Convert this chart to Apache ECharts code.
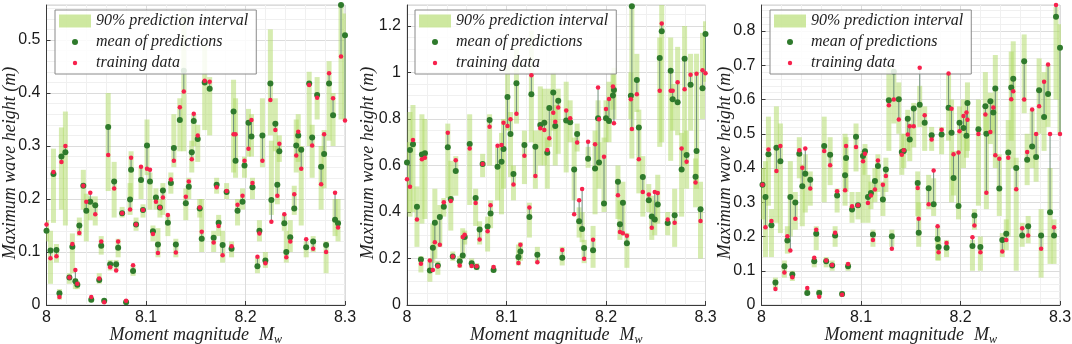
<!DOCTYPE html>
<html>
<head>
<meta charset="utf-8">
<script src="https://cdn.jsdelivr.net/npm/echarts@6/dist/echarts.min.js"></script>
<style>
  html, body { margin: 0; padding: 0; background: #fff; }
  #chart { width: 1072px; height: 344px; }
</style>
</head>
<body>
<div id="chart"></div>
<script>
// panel A
const mwA = [8.000,8.004,8.007,8.010,8.013,8.015,8.019,8.023,8.026,8.029,8.031,8.033,8.037,8.040,8.044,8.045,8.049,8.053,8.055,8.058,8.062,8.064,8.068,8.070,8.072,8.076,8.080,8.084,8.085,8.087,8.090,8.095,8.097,8.101,8.104,8.107,8.110,8.112,8.114,8.117,8.122,8.125,8.128,8.130,8.134,8.138,8.140,8.143,8.146,8.148,8.152,8.154,8.156,8.159,8.164,8.168,8.171,8.173,8.177,8.181,8.186,8.188,8.190,8.192,8.197,8.199,8.203,8.206,8.207,8.212,8.214,8.217,8.220,8.225,8.226,8.230,8.232,8.234,8.239,8.241,8.245,8.249,8.251,8.253,8.256,8.261,8.264,8.267,8.268,8.272,8.276,8.279,8.281,8.284,8.288,8.290,8.293,8.296,8.300];
const meanA = [0.14,0.103,0.247,0.104,0.022,0.28,0.288,0.052,0.11,0.045,0.038,0.15,0.225,0.178,0.195,0.01,0.188,0.047,0.112,0.008,0.336,0.077,0.233,0.077,0.108,0.173,0.005,0.199,0.255,0.064,0.152,0.236,0.179,0.301,0.233,0.139,0.203,0.114,0.184,0.216,0.155,0.23,0.296,0.114,0.349,0.442,0.192,0.223,0.288,0.347,0.313,0.182,0.125,0.42,0.408,0.127,0.227,0.155,0.113,0.213,0.106,0.365,0.272,0.178,0.195,0.263,0.344,0.318,0.222,0.073,0.14,0.32,0.084,0.418,0.198,0.342,0.227,0.29,0.154,0.10,0.128,0.182,0.301,0.32,0.293,0.109,0.418,0.316,0.12,0.396,0.261,0.285,0.113,0.418,0.358,0.161,0.154,0.566,0.509];
const trainA = [0.152,0.088,0.251,0.092,0.015,0.27,0.30,0.052,0.115,0.066,0.04,0.136,0.225,0.195,0.212,0.015,0.171,0.05,0.12,0.005,0.283,0.071,0.22,0.065,0.12,0.173,0.008,0.18,0.278,0.075,0.152,0.261,0.179,0.257,0.255,0.134,0.195,0.098,0.184,0.203,0.17,0.237,0.272,0.099,0.373,0.403,0.204,0.233,0.275,0.361,0.32,0.184,0.138,0.423,0.421,0.118,0.222,0.149,0.094,0.215,0.111,0.322,0.322,0.189,0.206,0.272,0.295,0.349,0.23,0.091,0.135,0.272,0.079,0.387,0.157,0.33,0.206,0.304,0.171,0.09,0.12,0.209,0.282,0.327,0.257,0.124,0.415,0.301,0.106,0.391,0.228,0.322,0.10,0.437,0.39,0.212,0.146,0.469,0.348];
const loA = [0.12,0.04,0.155,0.08,0.01,0.18,0.15,0.04,0.06,0.03,0.03,0.13,0.18,0.12,0.16,0.005,0.15,0.04,0.095,0.003,0.215,0.065,0.165,0.065,0.09,0.165,0.003,0.17,0.20,0.055,0.14,0.20,0.165,0.245,0.18,0.12,0.18,0.09,0.165,0.17,0.13,0.21,0.26,0.09,0.29,0.29,0.16,0.20,0.25,0.30,0.27,0.165,0.10,0.33,0.32,0.10,0.21,0.13,0.08,0.20,0.09,0.25,0.24,0.15,0.18,0.24,0.28,0.28,0.20,0.06,0.12,0.26,0.07,0.32,0.17,0.29,0.19,0.27,0.14,0.08,0.10,0.17,0.25,0.27,0.15,0.09,0.30,0.24,0.10,0.35,0.18,0.22,0.06,0.31,0.30,0.13,0.12,0.35,0.35];
const hiA = [0.16,0.14,0.295,0.115,0.03,0.335,0.365,0.06,0.135,0.05,0.045,0.165,0.255,0.21,0.205,0.015,0.205,0.06,0.13,0.012,0.40,0.085,0.27,0.085,0.125,0.185,0.01,0.23,0.29,0.075,0.165,0.26,0.19,0.35,0.25,0.15,0.22,0.145,0.20,0.23,0.17,0.25,0.36,0.125,0.39,0.55,0.22,0.24,0.31,0.36,0.34,0.20,0.20,0.49,0.43,0.14,0.24,0.17,0.14,0.23,0.12,0.425,0.39,0.20,0.22,0.28,0.37,0.36,0.24,0.09,0.16,0.39,0.10,0.52,0.31,0.39,0.30,0.32,0.17,0.14,0.16,0.225,0.35,0.36,0.30,0.12,0.44,0.34,0.13,0.43,0.30,0.33,0.12,0.46,0.40,0.20,0.20,0.57,0.55];

// panel B
const mwB = [8.000,8.003,8.006,8.010,8.014,8.015,8.018,8.023,8.026,8.028,8.031,8.033,8.037,8.041,8.044,8.046,8.049,8.053,8.056,8.058,8.063,8.065,8.069,8.070,8.073,8.076,8.081,8.083,8.084,8.087,8.091,8.095,8.097,8.101,8.104,8.107,8.110,8.112,8.114,8.118,8.123,8.125,8.129,8.131,8.134,8.138,8.141,8.143,8.147,8.149,8.152,8.156,8.160,8.164,8.168,8.171,8.173,8.176,8.178,8.182,8.187,8.189,8.192,8.193,8.198,8.200,8.203,8.207,8.208,8.212,8.214,8.217,8.221,8.225,8.226,8.231,8.233,8.237,8.243,8.246,8.249,8.252,8.254,8.256,8.262,8.265,8.267,8.269,8.272,8.276,8.279,8.281,8.285,8.290,8.291,8.295,8.297,8.300];
const meanB = [0.613,0.666,0.691,0.422,0.196,0.647,0.652,0.148,0.246,0.354,0.17,0.378,0.422,0.678,0.456,0.209,0.576,0.188,0.213,0.292,0.692,0.18,0.46,0.163,0.325,0.606,0.338,0.796,0.393,0.151,0.594,0.616,0.671,0.894,0.735,0.563,0.954,0.206,0.23,0.688,0.378,0.906,0.681,0.216,0.774,0.784,0.655,0.847,0.914,0.77,0.878,0.203,0.793,0.786,0.583,0.735,0.36,0.327,0.245,0.629,0.235,0.587,0.803,0.613,0.436,0.803,0.791,0.901,0.925,0.53,0.347,0.44,0.266,0.90,1.285,0.968,0.763,0.55,0.45,0.381,0.368,0.432,1.062,1.177,0.353,1.007,0.885,0.386,0.872,0.583,1.059,0.645,0.947,0.551,0.662,0.412,0.932,1.165];
const trainB = [0.541,0.508,0.709,0.368,0.177,0.627,0.633,0.191,0.151,0.27,0.167,0.259,0.442,0.741,0.447,0.209,0.622,0.17,0.292,0.302,0.673,0.168,0.439,0.167,0.282,0.606,0.317,0.767,0.429,0.163,0.685,0.688,0.784,0.77,0.799,0.518,0.822,0.181,0.259,0.642,0.419,0.988,0.555,0.184,0.76,0.753,0.666,0.717,0.827,0.788,0.849,0.237,0.836,0.803,0.39,0.699,0.45,0.499,0.199,0.702,0.281,0.691,0.935,0.799,0.637,0.843,0.886,0.94,0.781,0.472,0.314,0.309,0.298,0.885,0.757,0.906,0.627,0.486,0.475,0.332,0.486,0.482,0.921,1.21,0.368,0.921,0.921,0.354,0.958,0.673,0.928,0.616,0.99,0.527,0.994,0.361,1.009,0.997];
const loB = [0.40,0.38,0.40,0.25,0.14,0.35,0.37,0.10,0.18,0.20,0.13,0.25,0.38,0.46,0.32,0.19,0.47,0.16,0.20,0.26,0.43,0.16,0.34,0.15,0.26,0.55,0.23,0.60,0.33,0.14,0.45,0.39,0.50,0.75,0.55,0.45,0.78,0.17,0.19,0.52,0.29,0.70,0.50,0.18,0.60,0.60,0.50,0.68,0.75,0.60,0.65,0.17,0.57,0.70,0.45,0.66,0.29,0.27,0.18,0.59,0.16,0.39,0.60,0.50,0.40,0.70,0.70,0.84,0.80,0.37,0.28,0.30,0.16,0.80,0.63,0.83,0.48,0.38,0.40,0.28,0.30,0.35,0.68,0.70,0.30,0.62,0.75,0.25,0.73,0.38,0.60,0.50,0.75,0.42,0.50,0.20,0.80,0.96];
const hiB = [0.70,0.83,0.86,0.51,0.21,0.82,0.80,0.20,0.35,0.50,0.19,0.43,0.46,0.78,0.62,0.23,0.64,0.21,0.33,0.32,0.82,0.20,0.50,0.18,0.36,0.65,0.38,0.82,0.45,0.17,0.68,0.74,0.80,1.03,0.83,0.60,1.10,0.26,0.27,0.75,0.44,1.18,0.75,0.25,0.94,0.93,0.72,0.93,1.00,0.86,0.93,0.25,0.96,0.88,0.72,0.78,0.42,0.40,0.28,0.68,0.34,0.75,0.88,0.70,0.72,0.88,0.96,1.00,1.02,0.60,0.45,0.53,0.31,1.00,1.29,1.08,0.84,0.64,0.52,0.47,0.45,0.56,1.15,1.29,0.40,1.15,0.95,0.50,1.11,0.74,1.20,0.75,1.08,0.63,1.08,0.53,1.17,1.22];

// panel C
const mwC = [8.001,8.004,8.007,8.010,8.014,8.015,8.019,8.023,8.026,8.029,8.031,8.034,8.038,8.041,8.044,8.046,8.049,8.053,8.055,8.058,8.063,8.065,8.069,8.071,8.074,8.076,8.081,8.084,8.085,8.087,8.091,8.095,8.097,8.102,8.104,8.107,8.110,8.112,8.114,8.117,8.122,8.125,8.128,8.131,8.133,8.138,8.141,8.143,8.147,8.149,8.153,8.157,8.158,8.159,8.164,8.168,8.171,8.173,8.177,8.178,8.181,8.186,8.188,8.191,8.193,8.198,8.199,8.203,8.206,8.207,8.212,8.214,8.218,8.220,8.225,8.226,8.230,8.233,8.235,8.239,8.242,8.246,8.248,8.251,8.253,8.256,8.262,8.264,8.267,8.268,8.272,8.276,8.279,8.281,8.284,8.288,8.290,8.294,8.296,8.300];
const meanC = [0.351,0.315,0.44,0.233,0.066,0.459,0.42,0.113,0.188,0.315,0.089,0.299,0.442,0.347,0.383,0.035,0.366,0.128,0.208,0.035,0.464,0.128,0.439,0.115,0.203,0.32,0.032,0.379,0.429,0.113,0.279,0.491,0.291,0.435,0.449,0.315,0.327,0.206,0.362,0.406,0.308,0.396,0.598,0.201,0.681,0.601,0.447,0.45,0.544,0.483,0.574,0.356,0.211,0.585,0.532,0.341,0.496,0.294,0.193,0.169,0.498,0.167,0.576,0.503,0.371,0.289,0.532,0.517,0.494,0.59,0.172,0.261,0.513,0.169,0.58,0.5,0.595,0.562,0.632,0.34,0.19,0.208,0.445,0.635,0.661,0.4,0.203,0.712,0.424,0.23,0.463,0.432,0.627,0.203,0.549,0.616,0.271,0.203,0.842,0.751];
const trainC = [0.351,0.227,0.454,0.245,0.047,0.391,0.464,0.095,0.201,0.159,0.081,0.252,0.452,0.401,0.457,0.05,0.34,0.138,0.22,0.024,0.45,0.13,0.408,0.117,0.211,0.332,0.03,0.335,0.464,0.12,0.288,0.461,0.291,0.42,0.442,0.298,0.32,0.19,0.337,0.422,0.351,0.377,0.583,0.164,0.60,0.542,0.439,0.452,0.498,0.522,0.522,0.342,0.252,0.693,0.554,0.294,0.483,0.393,0.23,0.154,0.512,0.181,0.676,0.573,0.44,0.445,0.507,0.552,0.562,0.541,0.198,0.232,0.499,0.154,0.556,0.328,0.505,0.577,0.437,0.427,0.156,0.19,0.43,0.601,0.624,0.338,0.224,0.60,0.447,0.203,0.571,0.499,0.58,0.164,0.652,0.702,0.499,0.227,0.876,0.499];
const loC = [0.25,0.14,0.29,0.14,0.05,0.24,0.21,0.08,0.15,0.20,0.07,0.22,0.37,0.23,0.27,0.03,0.29,0.11,0.16,0.025,0.30,0.11,0.35,0.10,0.17,0.27,0.025,0.29,0.33,0.10,0.24,0.39,0.25,0.24,0.38,0.24,0.28,0.17,0.30,0.33,0.26,0.33,0.45,0.17,0.53,0.50,0.38,0.40,0.45,0.42,0.46,0.26,0.17,0.52,0.45,0.28,0.45,0.26,0.13,0.13,0.44,0.14,0.48,0.30,0.32,0.25,0.45,0.40,0.43,0.45,0.10,0.22,0.29,0.10,0.50,0.28,0.47,0.50,0.40,0.26,0.14,0.16,0.20,0.48,0.40,0.10,0.17,0.56,0.35,0.18,0.40,0.36,0.50,0.08,0.45,0.52,0.12,0.12,0.60,0.50];
const hiC = [0.40,0.42,0.55,0.28,0.08,0.58,0.53,0.13,0.23,0.42,0.10,0.33,0.49,0.41,0.44,0.045,0.39,0.14,0.23,0.045,0.55,0.14,0.49,0.13,0.23,0.34,0.04,0.50,0.49,0.125,0.33,0.53,0.33,0.45,0.47,0.38,0.36,0.22,0.40,0.44,0.36,0.43,0.70,0.22,0.69,0.65,0.50,0.50,0.57,0.53,0.59,0.39,0.30,0.64,0.58,0.38,0.52,0.37,0.23,0.19,0.52,0.19,0.68,0.60,0.45,0.45,0.58,0.60,0.55,0.65,0.19,0.28,0.60,0.20,0.68,0.56,0.62,0.60,0.73,0.44,0.21,0.25,0.54,0.74,0.77,0.43,0.24,0.79,0.50,0.26,0.57,0.50,0.72,0.28,0.68,0.70,0.40,0.25,0.87,0.82];

const panels = [
  { mw: mwA, mean: meanA, train: trainA, lo: loA, hi: hiA },
  { mw: mwB, mean: meanB, train: trainB, lo: loB, hi: hiB },
  { mw: mwC, mean: meanC, train: trainC, lo: loC, hi: hiC }
];
const yMax = [0.566, 1.29, 0.876];
const yStep = [0.1, 0.2, 0.1];
const yMinor = [5, 4, 5];
const gridLeft = [46.5, 407, 761.5];
const yNameGap = [27, 30, 27];
const legendLeft = [55, 415, 770];

const BAND = 'rgba(173,217,97,0.5)';
const MEAN = '#2f7a2c';
const TRAIN = '#f7214c';
const serif = '"Liberation Serif", "DejaVu Serif", serif';
const sans = '"Liberation Sans", Arial, sans-serif';

const chart = echarts.init(document.getElementById('chart'));

const grids = [], xAxes = [], yAxes = [], series = [], legends = [];

panels.forEach((p, k) => {
  grids.push({
    left: gridLeft[k], top: 5, width: 298.5, height: 300,
    outerBoundsMode: 'none', containLabel: false,
    show: true, borderColor: '#d0d0d0', borderWidth: 1
  });
  xAxes.push({
    type: 'value', gridIndex: k, min: 8, max: 8.3, interval: 0.1,
    name: '{t|Moment magnitude}   {t|M}{s|w}',
    nameLocation: 'middle', nameGap: 19, nameMoveOverlap: false,
    nameTextStyle: {
      rich: {
        t: { fontFamily: serif, fontStyle: 'italic', fontSize: 18, color: '#222' },
        s: { fontFamily: serif, fontStyle: 'italic', fontSize: 12, color: '#222', padding: [10, 0, 0, 0] }
      }
    },
    axisLine: { onZero: false, lineStyle: { color: '#3a3a3a', width: 1 } },
    axisTick: { inside: true, length: 4, lineStyle: { color: '#3a3a3a' } },
    axisLabel: {
      fontFamily: sans, fontSize: 16, color: '#1a1a1a', margin: 5,
      formatter: v => String(Math.round(v * 10) / 10)
    },
    splitLine: { show: true, lineStyle: { color: '#dcdcdc' } },
    minorTick: { show: false, splitNumber: 5 },
    minorSplitLine: { show: true, lineStyle: { color: '#f0f0f0' } }
  });
  yAxes.push({
    type: 'value', gridIndex: k, min: 0, max: yMax[k], interval: yStep[k],
    name: 'Maximum wave height (m)',
    nameLocation: 'middle', nameGap: yNameGap[k], nameRotate: 90, nameMoveOverlap: false,
    nameTextStyle: { fontFamily: serif, fontStyle: 'italic', fontSize: 18, color: '#222', padding: [0, 16, 0, 0] },
    axisLine: { show: true, lineStyle: { color: '#3a3a3a', width: 1 } },
    axisTick: { show: true, inside: true, length: 4, lineStyle: { color: '#3a3a3a' } },
    axisLabel: {
      fontFamily: sans, fontSize: 16, color: '#1a1a1a', margin: 6, showMaxLabel: false,
      formatter: v => String(Math.round(v * 10) / 10)
    },
    splitLine: { show: true, lineStyle: { color: '#dcdcdc' } },
    minorTick: { show: false, splitNumber: yMinor[k] },
    minorSplitLine: { show: true, lineStyle: { color: '#f0f0f0' } }
  });

  series.push({
    name: '90% prediction interval', type: 'custom', xAxisIndex: k, yAxisIndex: k,
    clip: true, z: 1,
    itemStyle: { color: BAND },
    data: p.mw.map((x, i) => [x, p.lo[i], p.hi[i]]),
    encode: { x: 0, y: [1, 2] },
    renderItem: (params, api) => {
      const a = api.coord([api.value(0), api.value(1)]);
      const b = api.coord([api.value(0), api.value(2)]);
      return {
        type: 'rect',
        shape: { x: a[0] - 2.5, y: b[1], width: 5, height: a[1] - b[1] },
        style: { fill: BAND }
      };
    }
  });
  series.push({
    name: 'link', type: 'custom', xAxisIndex: k, yAxisIndex: k,
    clip: true, z: 2, silent: true,
    data: p.mw.map((x, i) => [x, p.mean[i], p.train[i]]),
    encode: { x: 0, y: [1, 2] },
    renderItem: (params, api) => {
      const a = api.coord([api.value(0), api.value(1)]);
      const b = api.coord([api.value(0), api.value(2)]);
      return {
        type: 'line',
        shape: { x1: a[0], y1: a[1], x2: b[0], y2: b[1] },
        style: { stroke: '#6f8f7c', lineWidth: 1 }
      };
    }
  });
  series.push({
    name: 'mean of predictions', type: 'scatter', xAxisIndex: k, yAxisIndex: k,
    z: 3, symbolSize: 6, itemStyle: { color: MEAN, opacity: 1 },
    data: p.mw.map((x, i) => [x, p.mean[i]])
  });
  series.push({
    name: 'training data', type: 'scatter', xAxisIndex: k, yAxisIndex: k,
    z: 4, symbolSize: 4.5, itemStyle: { color: TRAIN, opacity: 1 },
    data: p.mw.map((x, i) => [x, p.train[i]])
  });

  legends.push({
    orient: 'vertical', left: legendLeft[k], top: 10,
    itemWidth: 32, itemHeight: 13, itemGap: 5,
    padding: [3, 8, 3, 4],
    backgroundColor: 'rgba(255,255,255,0.85)',
    borderColor: '#8a8a8a', borderWidth: 1, borderRadius: 0,
    selectedMode: false,
    textStyle: { fontFamily: serif, fontStyle: 'italic', fontSize: 16, color: '#222', lineHeight: 16 },
    data: [
      { name: '90% prediction interval', icon: 'rect', itemStyle: { color: 'rgba(173,217,97,0.6)' } },
      { name: 'mean of predictions', icon: 'path://M-16,-6.5M16,6.5M-3,0A3,3,0,1,1,3,0A3,3,0,1,1,-3,0Z', itemStyle: { color: MEAN } },
      { name: 'training data', icon: 'path://M-16,-6.5M16,6.5M-2.2,0A2.2,2.2,0,1,1,2.2,0A2.2,2.2,0,1,1,-2.2,0Z', itemStyle: { color: TRAIN } }
    ]
  });
});

chart.setOption({
  animation: false,
  backgroundColor: '#fff',
  grid: grids,
  xAxis: xAxes,
  yAxis: yAxes,
  legend: legends,
  series: series
});
</script>
</body>
</html>
